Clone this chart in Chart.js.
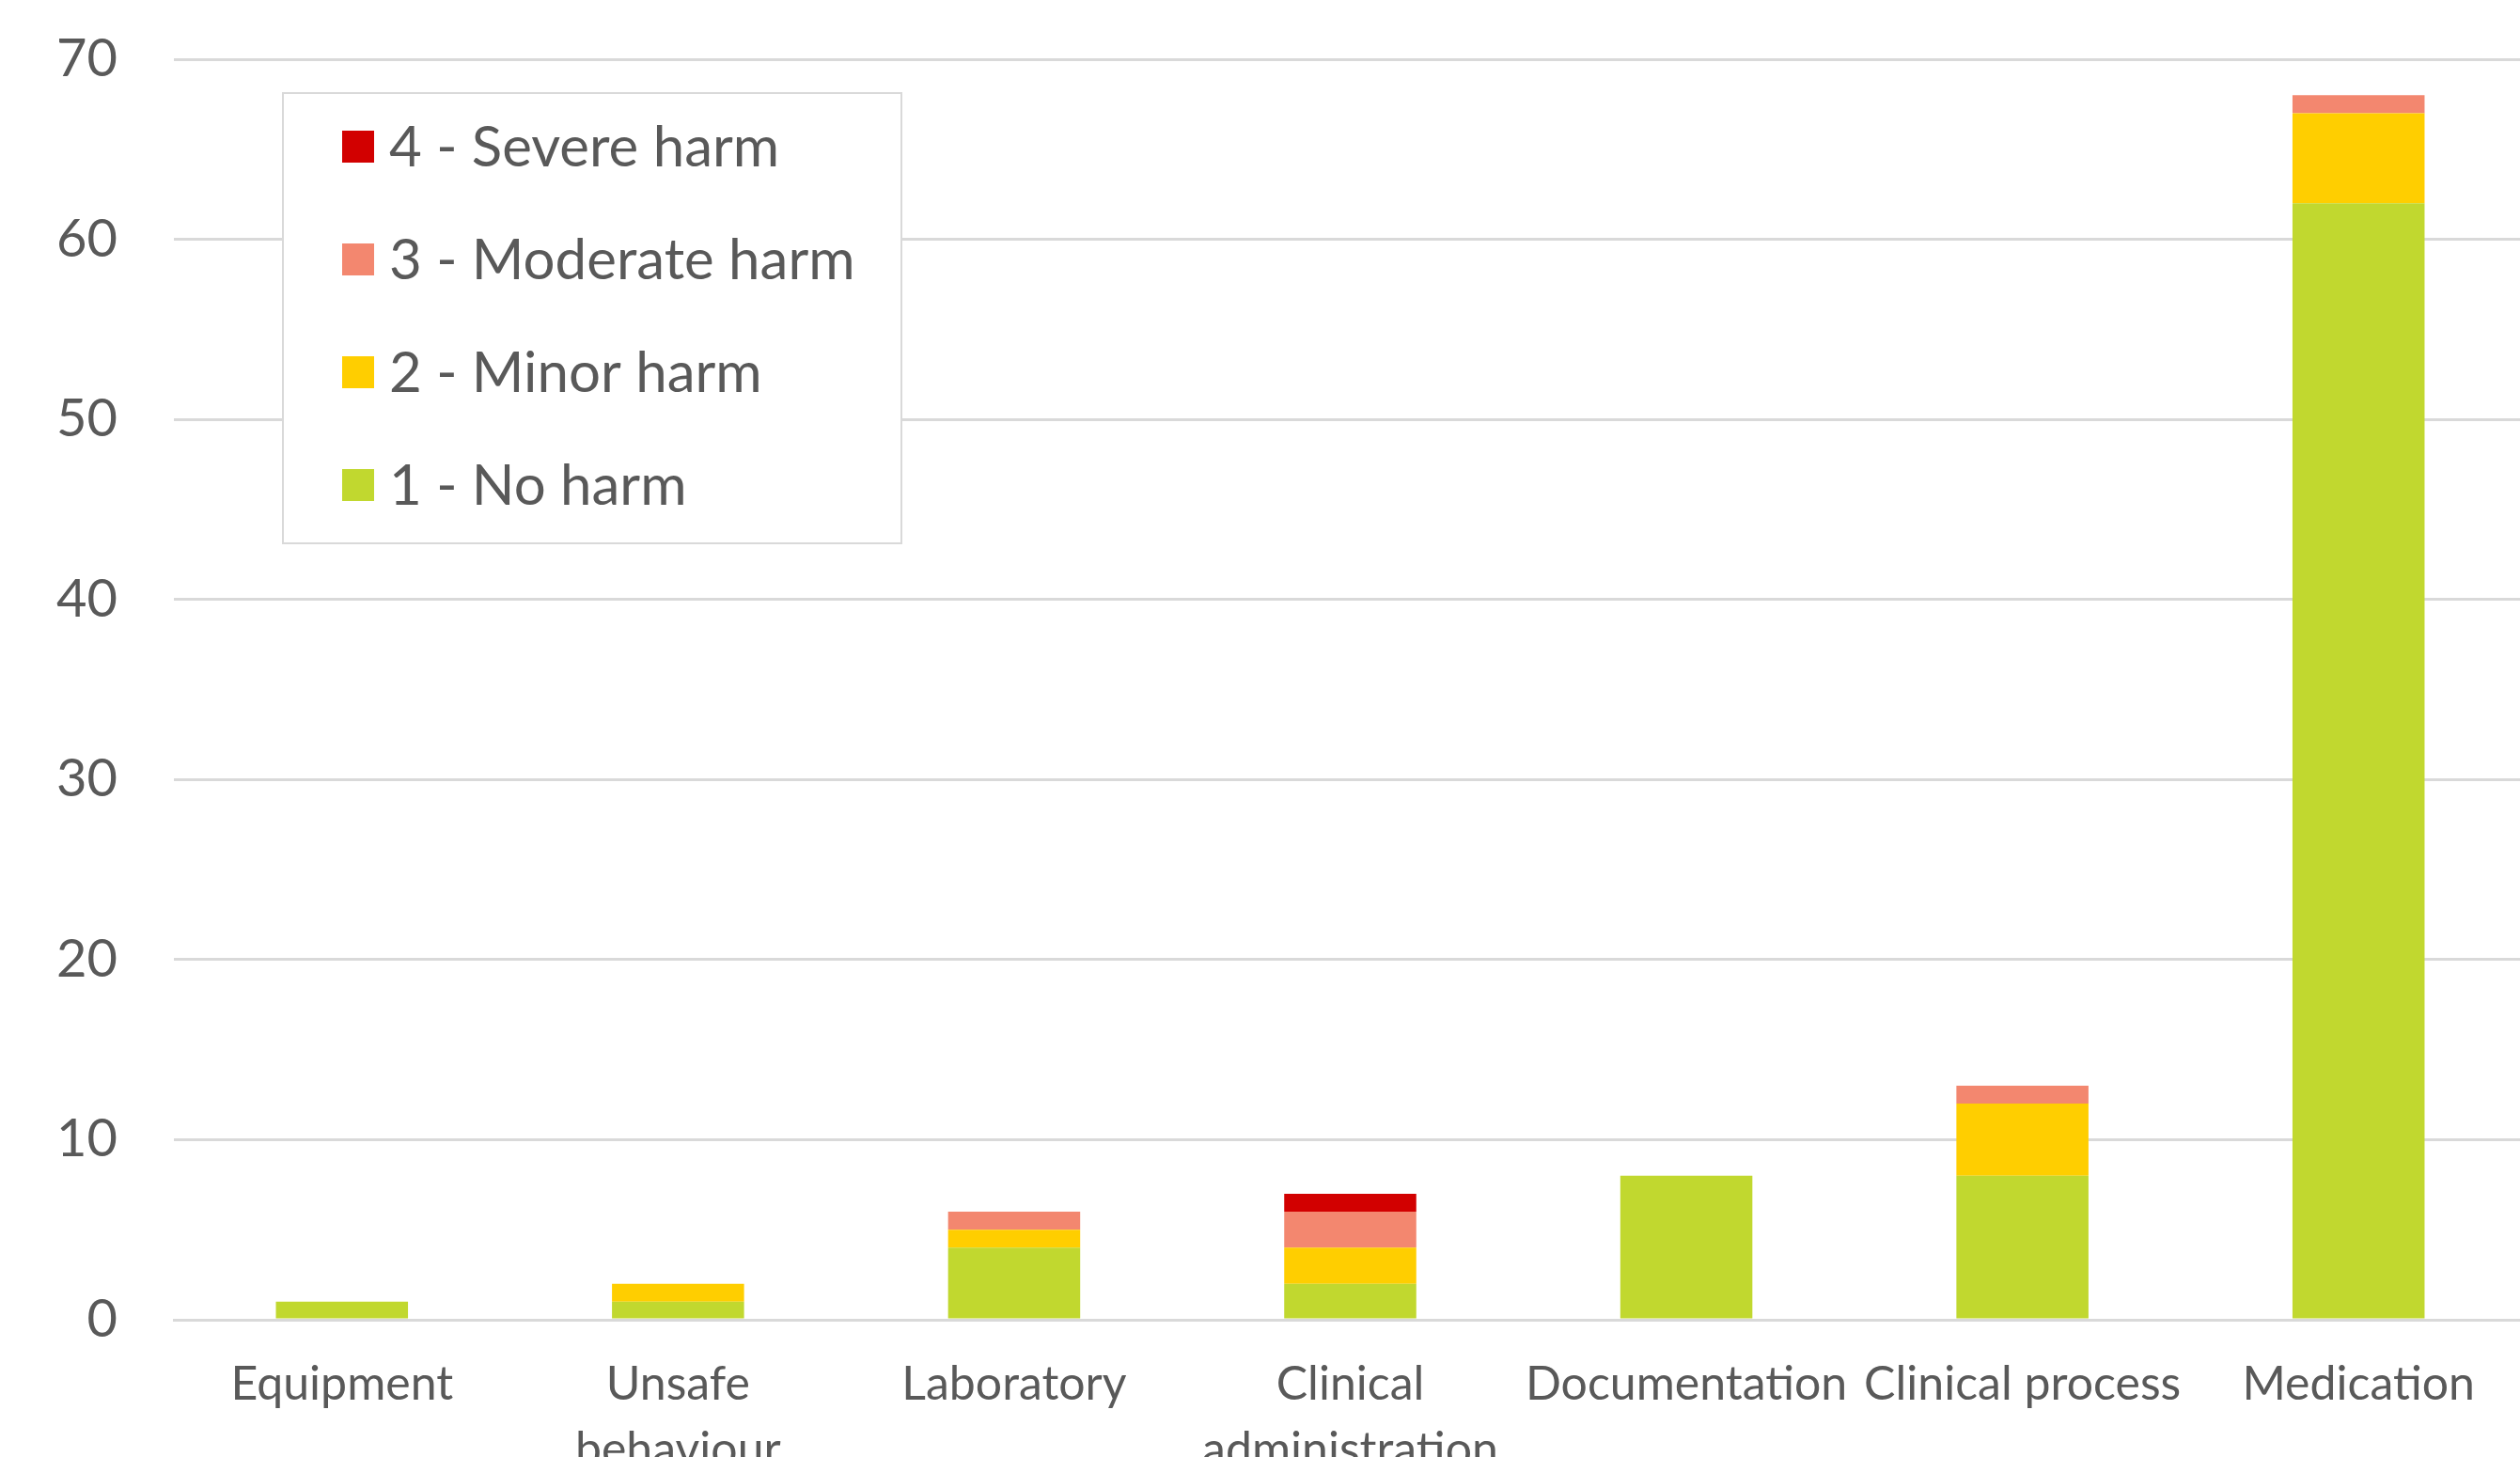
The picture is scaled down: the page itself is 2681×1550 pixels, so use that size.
<!DOCTYPE html>
<html>
<head>
<meta charset="utf-8">
<script src="https://cdn.jsdelivr.net/npm/chart.js@4"></script>
<style>
  html, body { margin: 0; padding: 0; background: #fff; overflow: hidden; }
</style>
</head>
<body>
<canvas id="myChart" width="2681" height="1550"></canvas>
<script>
// categories and harm counts
const categories = ['Equipment', ['Unsafe', 'behaviour'], 'Laboratory', ['Clinical', 'administration'], 'Documentation', 'Clinical process', 'Medication'];
const noHarm = [1, 1, 4, 2, 8, 8, 62];
const minorHarm = [0, 1, 1, 2, 0, 4, 5];
const moderateHarm = [0, 0, 1, 2, 0, 1, 1];
const severeHarm = [0, 0, 0, 1, 0, 0, 0];
const yTicks = [0, 10, 20, 30, 40, 50, 60, 70];

const FONT = "Lato, 'Open Sans', sans-serif";
const TEXT = '#595959';
const GRID = '#D9D9D9';

// legend drawn as a boxed panel inside the plot, top item = top of the stack
const boxLegend = {
    id: 'boxLegend',
    afterDatasetsDraw(chart) {
        const ctx = chart.ctx;
        const x = 301, y = 99, w = 658, h = 479;
        ctx.save();
        ctx.fillStyle = '#fff';
        ctx.fillRect(x, y, w, h);
        ctx.strokeStyle = GRID;
        ctx.lineWidth = 2;
        ctx.strokeRect(x, y, w, h);
        const sets = chart.data.datasets.slice().reverse();
        ctx.font = '60px ' + FONT;
        ctx.textBaseline = 'middle';
        sets.forEach((ds, i) => {
            const cy = 156 + i * 120;
            ctx.fillStyle = ds.backgroundColor;
            ctx.fillRect(364, cy - 17, 34, 34);
            ctx.fillStyle = TEXT;
            ctx.fillText(ds.label, 414, cy + 2);
        });
        ctx.restore();
    }
};

// the original plot runs a few pixels past the right edge of the picture
const widenX = {
    id: 'widenX',
    afterLayout(chart) {
        const x = chart.scales.x;
        x.right += 7;
        x.width += 7;
        x.configure();
    }
};

const ctx = document.getElementById('myChart').getContext('2d');
const chart = new Chart(ctx, {
    type: 'bar',
    data: {
        labels: categories,
        datasets: [
            { label: '1 - No harm', data: noHarm, backgroundColor: '#C1D82F' },
            { label: '2 - Minor harm', data: minorHarm, backgroundColor: '#FFCE00' },
            { label: '3 - Moderate harm', data: moderateHarm, backgroundColor: '#F3876F' },
            { label: '4 - Severe harm', data: severeHarm, backgroundColor: '#D20000' }
        ]
    },
    options: {
        responsive: false,
        animation: false,
        devicePixelRatio: 1,
        layout: { padding: { top: 63, right: 0, left: 0, bottom: 0 } },
        datasets: { bar: { categoryPercentage: 1, barPercentage: 0.393, borderWidth: 0 } },
        plugins: { legend: { display: false }, tooltip: { enabled: false } },
        scales: {
            x: {
                stacked: true,
                grid: { display: false },
                border: { color: GRID, width: 3 },
                ticks: {
                    color: TEXT,
                    font: { family: FONT, size: 50, lineHeight: 1.4 },
                    padding: 26,
                    maxRotation: 0,
                    autoSkip: false
                },
                afterFit(scale) {
                    scale.height = 146;
                    scale.paddingLeft = 0;
                    scale.paddingRight = 0;
                }
            },
            y: {
                stacked: true,
                min: 0,
                max: 70,
                afterBuildTicks(scale) { scale.ticks = yTicks.map(v => ({ value: v })); },
                grid: { color: GRID, lineWidth: 3, drawTicks: false },
                border: { display: false },
                ticks: {
                    color: TEXT,
                    font: { family: FONT, size: 56 },
                    padding: 60
                },
                afterFit(scale) {
                    scale.width = 185;
                    // tick padding would otherwise push the plot top down
                    scale.paddingTop = 0;
                    scale.paddingBottom = 0;
                }
            }
        }
    },
    plugins: [widenX, boxLegend]
});
</script>
</body>
</html>
